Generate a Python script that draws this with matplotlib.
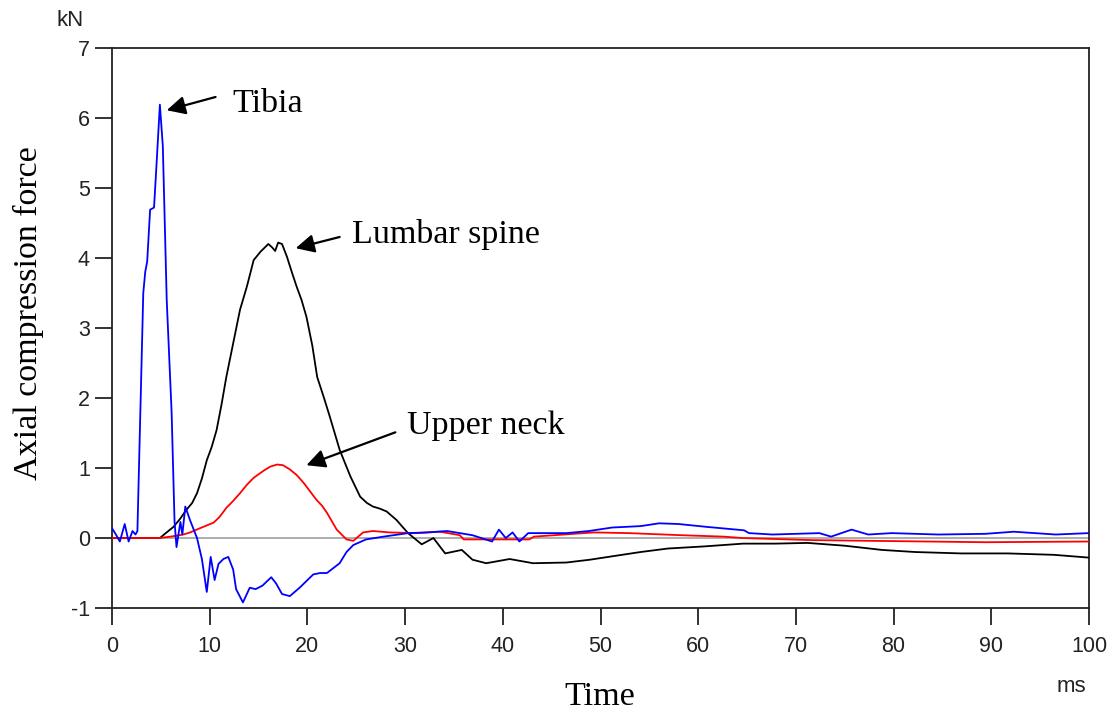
import matplotlib
matplotlib.use('Agg')
import matplotlib.pyplot as plt

plt.rcParams['axes.unicode_minus'] = False

# Tibia (blue)
tibia_t = [0, 0.4, 0.8, 1.3, 1.7, 2.1, 2.4, 2.6, 3.2, 3.4, 3.6, 3.9, 4.3, 4.5, 4.9, 5.2,
           5.6, 6.1, 6.4, 6.6, 7.0, 7.2, 7.5, 8.0, 8.7, 9.2, 9.7, 10.1, 10.5, 10.9, 11.4,
           11.9, 12.4, 12.7, 13.4, 14.1, 14.7, 15.4, 16.3, 16.8, 17.4, 18.2, 19.2, 20.6,
           21.3, 22.0, 23.3, 24.0, 24.7, 26.0, 27.8, 30.3, 32.2, 34.3, 36.9, 38.9, 39.6,
           40.3, 41.0, 41.7, 42.6, 46.5, 48.8, 51.2, 54.1, 56.0, 58.0, 60.8, 64.7, 65.2,
           67.6, 72.4, 73.6, 75.7, 77.4, 79.8, 84.6, 89.4, 92.3, 96.6, 100]
tibia_f = [0.14, 0.05, -0.05, 0.2, -0.05, 0.1, 0.05, 0.1, 3.5, 3.8, 3.95, 4.69, 4.72, 5.2,
           6.19, 5.6, 3.4, 1.8, 0.24, -0.13, 0.23, 0.05, 0.45, 0.25, 0.0, -0.3, -0.77,
           -0.27, -0.6, -0.37, -0.3, -0.27, -0.45, -0.73, -0.92, -0.71, -0.73, -0.68,
           -0.56, -0.65, -0.8, -0.83, -0.71, -0.52, -0.5, -0.5, -0.36, -0.2, -0.1, -0.02,
           0.02, 0.07, 0.08, 0.1, 0.04, -0.05, 0.12, 0.0, 0.08, -0.05, 0.07, 0.07, 0.1,
           0.15, 0.17, 0.21, 0.2, 0.16, 0.11, 0.07, 0.05, 0.07, 0.02, 0.12, 0.05, 0.07,
           0.05, 0.06, 0.09, 0.05, 0.07]

# Lumbar spine (black)
lumbar_t = [0, 4.9, 5.5, 6.3, 7.0, 7.6, 8.2, 8.7, 9.2, 9.7, 10.2, 10.7, 11.2, 11.7, 12.4,
            13.1, 13.8, 14.5, 15.2, 16.0, 16.4, 16.7, 17.0, 17.4, 17.9, 18.4, 18.9, 19.4,
            19.9, 20.5, 21.0, 21.7, 22.3, 23.3, 24.4, 25.4, 26.1, 26.7, 27.4, 28.1, 29.1,
            30.3, 31.7, 32.9, 34.1, 35.8, 36.9, 38.3, 40.7, 43.1, 46.5, 48.9, 52.2, 54.1,
            56.9, 60.6, 64.6, 67.9, 71.2, 75.0, 78.8, 82.2, 86.9, 91.7, 96.4, 100]
lumbar_f = [0, 0, 0.07, 0.16, 0.28, 0.4, 0.5, 0.64, 0.85, 1.11, 1.3, 1.54, 1.9, 2.3, 2.78,
            3.26, 3.59, 3.97, 4.09, 4.2, 4.15, 4.1, 4.22, 4.2, 4.02, 3.8, 3.59, 3.4, 3.16,
            2.75, 2.3, 2.0, 1.73, 1.26, 0.88, 0.59, 0.5, 0.45, 0.42, 0.38, 0.26, 0.07,
            -0.09, 0.0, -0.22, -0.17, -0.31, -0.36, -0.30, -0.36, -0.35, -0.31, -0.24,
            -0.2, -0.15, -0.12, -0.08, -0.08, -0.07, -0.11, -0.17, -0.2, -0.22, -0.22,
            -0.24, -0.28]

# Upper neck (red)
neck_t = [0, 4.9, 6.0, 7.3, 8.0, 9.0, 10.4, 11.0, 11.7, 12.4, 13.1, 13.8, 14.5, 15.5, 16.2,
          16.9, 17.5, 18.2, 18.9, 19.6, 20.2, 20.9, 21.5, 22.0, 23.0, 24.0, 24.7, 25.7,
          26.7, 28.4, 31.1, 33.6, 35.6, 36.0, 42.7, 43.2, 49.3, 52.9, 58.3, 62.6, 64.5,
          71.7, 89.4, 100]
neck_f = [0, 0, 0.02, 0.05, 0.08, 0.14, 0.22, 0.3, 0.43, 0.53, 0.64, 0.76, 0.86, 0.96,
          1.02, 1.05, 1.04, 0.98, 0.9, 0.79, 0.68, 0.55, 0.46, 0.36, 0.12, -0.02, -0.04,
          0.08, 0.1, 0.08, 0.07, 0.09, 0.04, -0.02, -0.02, 0.02, 0.08, 0.07, 0.04, 0.02,
          0.0, -0.03, -0.06, -0.05]

x_ticks = list(range(0, 101, 10))
y_ticks = list(range(-1, 8))

serif = 'Liberation Serif'
sans = 'Liberation Sans'

fig = plt.figure(figsize=(11.19, 7.16), dpi=100)
ax = fig.add_axes([0.1001, 0.1508, 0.8731, 0.7822])

ax.axhline(0, color='#a0a0a0', lw=1.2, zorder=1)
ax.plot(lumbar_t, lumbar_f, color='black', lw=1.3, zorder=3)
ax.plot(neck_t, neck_f, color='#ff0000', lw=1.3, zorder=4)
ax.plot(tibia_t, tibia_f, color='#0000ff', lw=1.3, zorder=5)

ax.set_xlim(0, 100)
ax.set_ylim(-1, 7)
ax.set_xticks(x_ticks)
ax.set_yticks(y_ticks)
ax.tick_params(direction='out', length=12, width=1.3, labelsize=15.5,
               colors='#222222')
ax.tick_params(axis='x', pad=8)
ax.tick_params(axis='y', pad=4)
for lab in ax.get_xticklabels() + ax.get_yticklabels():
    lab.set_family(sans)
for s in ax.spines.values():
    s.set_linewidth(1.3)
    s.set_color('#222222')

# Annotations
arrow = dict(arrowstyle='-|>', mutation_scale=28, color='black', lw=1.6,
             shrinkA=0, shrinkB=0)
ax.annotate('', xy=(5.6, 6.11), xytext=(10.6, 6.3), arrowprops=arrow)
ax.text(12.3, 6.21, 'Tibia', family=serif, fontsize=24.5, va='center', ha='left')
ax.annotate('', xy=(18.8, 4.14), xytext=(23.3, 4.3), arrowprops=arrow)
ax.text(24.6, 4.33, 'Lumbar spine', family=serif, fontsize=24.5, va='center', ha='left')
ax.annotate('', xy=(19.9, 1.04), xytext=(29.0, 1.51), arrowprops=arrow)
ax.text(30.2, 1.61, 'Upper neck', family=serif, fontsize=24.5, va='center', ha='left')

# Axis titles and units
fig.text(28 / 1119, 1 - 313 / 716, 'Axial compression force', family=serif,
         fontsize=24.5, rotation=90, ha='center', va='center')
fig.text(600 / 1119, 1 - 697 / 716, 'Time', family=serif, fontsize=24.5,
         ha='center', va='center')
fig.text(70 / 1119, 1 - 20 / 716, 'kN', family=sans, fontsize=16,
         ha='center', va='center', color='#222222')
fig.text(1071 / 1119, 1 - 687 / 716, 'ms', family=sans, fontsize=16,
         ha='center', va='center', color='#222222')

fig.savefig('out.png', dpi=100)
